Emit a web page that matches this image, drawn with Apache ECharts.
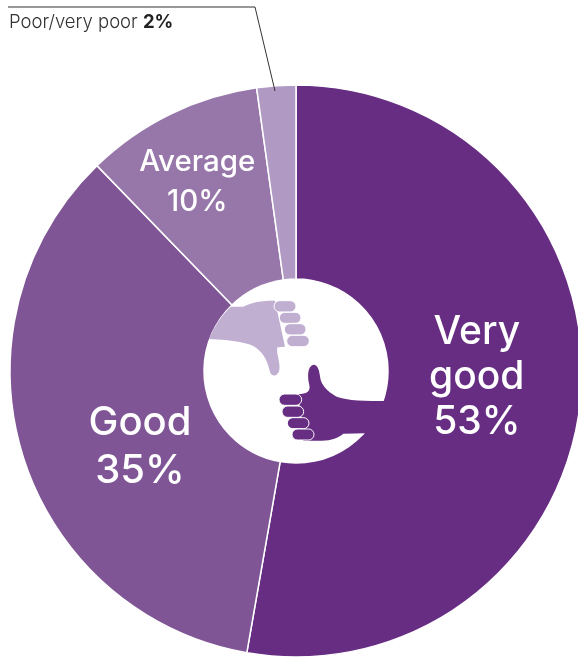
<!DOCTYPE html>
<html>
<head>
<meta charset="utf-8">
<style>html,body{margin:0;padding:0;background:#fff}#c{width:578px;height:657px}</style>
<script src="https://cdn.jsdelivr.net/npm/echarts@6/dist/echarts.min.js"></script>
</head>
<body>
<div id="c"></div>
<script>
const categories = ['Very\ngood', 'Good', 'Average', 'Poor/very poor'];
const values = [52.75, 35, 10.05, 2.2];
const printedPercent = ['53%', '35%', '10%', '2%'];
const colors = ['#662d83', '#7f5596', '#9777aa', '#b09ac3'];
const fontSizes = [39, 40, 29.5, 0];
const lineHeights = [45, 48, 40, 0];
const labelShift = [[-10.5, -10], [27.5, 20], [-14.5, -16], [0, 0]];
const F = 'Inter, "Open Sans", sans-serif';
const light = '#c1afd1', dark = '#662d83';

const downFingers = [[252,92,66,34],[268,127,65,33],[283,161,65,34],[290,196,68,34]];
const upFingers = [[267,372,68,34],[276,408,65,34],[292,443,65,33],[306,477,66,33]];
const finger = (r, fill) => ({type:'rect', z:10, x:190, y:270, scaleX:1/3, scaleY:1/3,
  shape:{x:r[0], y:r[1], width:r[2], height:r[3], r:r[3]/2},
  style:{fill, stroke:'#fff', lineWidth:3}});
const hand = (name, fill) => ({type:name, z:9, x:190, y:270, scaleX:1/3, scaleY:1/3, style:{fill}});

const downPath = 'M122 110 L160 110 C180 100 200 92 255 92 L285 230 L262 232 C258 250 272 280 268 300 C264 320 245 322 240 305 C232 275 225 255 200 235 C180 218 130 210 57 207 A276 276 0 0 1 122 110 Z';
const upPath = 'M325 372 C350 372 362 365 358 345 C352 320 352 290 370 284 C386 284 388 305 392 330 C400 355 425 372 440 380 C470 392 530 393 590 393 L640 393 L640 490 L525 490 L460 491 C445 503 425 512 395 512 L340 512 Z';
echarts.graphic.registerShape('handDown', echarts.graphic.extendPath(downPath, {}));
echarts.graphic.registerShape('handUp', echarts.graphic.extendPath(upPath, {}));

const chart = echarts.init(document.getElementById('c'));
chart.setOption({
  animation:false,
  series:[{
    type:'pie', center:[296,371], radius:[92,286], startAngle:90, clockwise:true,
    silent:true,
    itemStyle:{borderColor:'#fff', borderWidth:1.5},
    labelLine:{show:false},
    label:{show:true, position:'inside', color:'#fff', fontFamily:F, fontWeight:500, align:'center'},
    labelLayout:p=>({dx:labelShift[p.dataIndex][0], dy:labelShift[p.dataIndex][1]}),
    data:categories.map((n,i)=>({
      name:n, value:values[i], itemStyle:{color:colors[i]},
      label:{show:i<3, fontSize:fontSizes[i], lineHeight:lineHeights[i],
        formatter:p=>p.name+'\n'+printedPercent[p.dataIndex]}
    }))
  }],
  graphic:[
    hand('handDown', light),
    ...downFingers.map(r=>finger(r, light)),
    hand('handUp', dark),
    ...upFingers.map(r=>finger(r, dark)),
    {type:'polyline', z:11, shape:{points:[[8,7],[255,7],[275,91]]}, style:{fill:'none', stroke:'#333', lineWidth:1}},
    {type:'text', z:11, x:9, y:13, style:{fill:'#333', font:'300 18.5px '+F,
      rich:{b:{font:'bold 18.5px '+F, fill:'#222'}}, text:'Poor/very poor {b|'+printedPercent[3]+'}'}}
  ]
});
</script>
</body>
</html>
